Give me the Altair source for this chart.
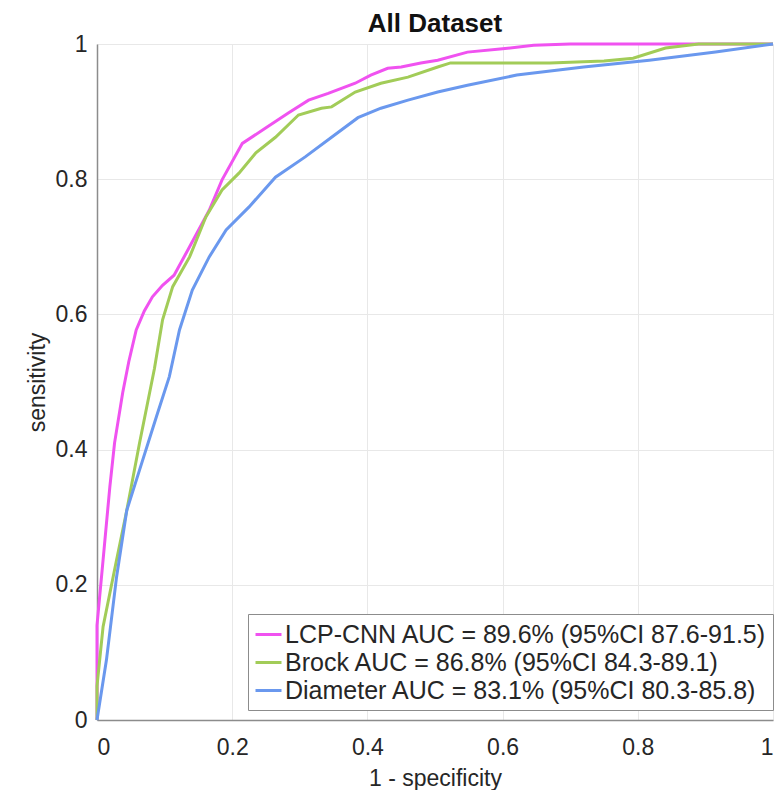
import altair as alt
import pandas as pd

title_text = ["All Dataset"]
labels = [
    "LCP-CNN AUC = 89.6% (95%CI 87.6-91.5)",
    "Brock AUC = 86.8% (95%CI 84.3-89.1)",
    "Diameter AUC = 83.1% (95%CI 80.3-85.8)",
]
colors = ["#f052f0", "#a2cc58", "#6a98ee"]

lcp_x = [0, 0, 0.009, 0.019, 0.026, 0.038, 0.047, 0.058, 0.07, 0.082, 0.097, 0.114, 0.137, 0.166, 0.185,
         0.215, 0.25, 0.283, 0.313, 0.342, 0.382, 0.405, 0.43, 0.45, 0.479, 0.504, 0.548, 0.6, 0.646,
         0.7, 0.743, 0.8, 0.9, 1.0]
lcp_y = [0, 0.14, 0.237, 0.345, 0.41, 0.484, 0.53, 0.577, 0.605, 0.626, 0.643, 0.658, 0.70, 0.754, 0.799,
         0.853, 0.876, 0.898, 0.917, 0.927, 0.942, 0.954, 0.964, 0.966, 0.972, 0.976, 0.988, 0.993, 0.998,
         1.0, 1.0, 1.0, 1.0, 1.0]

brock_x = [0, 0, 0.009, 0.029, 0.044, 0.063, 0.085, 0.097, 0.112, 0.137, 0.161, 0.185, 0.21, 0.235,
           0.264, 0.298, 0.332, 0.347, 0.382, 0.42, 0.46, 0.504, 0.523, 0.55, 0.6, 0.67, 0.75, 0.793,
           0.841, 0.89, 1.0]
brock_y = [0, 0.05, 0.138, 0.237, 0.31, 0.41, 0.52, 0.592, 0.641, 0.685, 0.744, 0.784, 0.809, 0.839,
           0.862, 0.895, 0.905, 0.907, 0.929, 0.942, 0.951, 0.966, 0.972, 0.972, 0.972, 0.972, 0.975, 0.979,
           0.994, 1.0, 1.0]

diam_x = [0, 0.014, 0.029, 0.044, 0.063, 0.088, 0.107, 0.122, 0.141, 0.166, 0.191, 0.225, 0.264,
          0.308, 0.347, 0.386, 0.42, 0.46, 0.504, 0.548, 0.621, 0.72, 0.817, 0.915, 1.0]
diam_y = [0, 0.089, 0.212, 0.31, 0.37, 0.449, 0.508, 0.577, 0.636, 0.685, 0.725, 0.759, 0.803,
          0.833, 0.862, 0.891, 0.905, 0.917, 0.929, 0.939, 0.954, 0.966, 0.976, 0.988, 1.0]

rows = []
for name, xs, ys in zip(labels, [lcp_x, brock_x, diam_x], [lcp_y, brock_y, diam_y]):
    for i, (xv, yv) in enumerate(zip(xs, ys)):
        rows.append({"model": name, "fpr": xv, "tpr": yv, "i": i})
df = pd.DataFrame(rows)

FONT = "Liberation Sans"
TXT = "#262626"
W, H = 676, 676

lines = (
    alt.Chart(df)
    .mark_line(strokeWidth=3)
    .encode(
        x=alt.X("fpr:Q", title="1 - specificity",
                scale=alt.Scale(domain=[0, 1], nice=False),
                axis=alt.Axis(values=[0, 0.2, 0.4, 0.6, 0.8, 1], format="~g",
                              labelPadding=16, titlePadding=8)),
        y=alt.Y("tpr:Q", title="sensitivity",
                scale=alt.Scale(domain=[0, 1], nice=False),
                axis=alt.Axis(values=[0, 0.2, 0.4, 0.6, 0.8, 1], format="~g",
                              labelPadding=10, titlePadding=6)),
        color=alt.Color("model:N",
                        scale=alt.Scale(domain=labels, range=colors),
                        sort=labels,
                        legend=alt.Legend(title=None, orient="none", legendX=151, legendY=570,
                                          fillColor="white", strokeColor="#8c8c8c",
                                          padding=6, rowPadding=0, labelOffset=2,
                                          labelFontSize=25, labelFont=FONT, labelColor=TXT,
                                          labelLimit=0, symbolType="stroke",
                                          symbolStrokeWidth=3, symbolSize=676)),
        order=alt.Order("i:Q"),
    )
)

title = (
    alt.Chart(pd.DataFrame({"t": title_text}))
    .mark_text(font=FONT, fontSize=26, fontWeight="bold", color="#111111",
               align="center", baseline="alphabetic")
    .encode(text="t:N", x=alt.value(W / 2), y=alt.value(-12))
)

chart = (
    alt.layer(lines, title)
    .properties(
        width=W,
        height=H,
        autosize=alt.AutoSizeParams(type="none"),
        padding={"left": 89, "top": 36, "right": 2, "bottom": 70},
    )
    .configure_axis(
        labelFont=FONT, labelFontSize=23, labelColor=TXT,
        titleFont=FONT, titleFontSize=23, titleColor=TXT, titleFontWeight="normal",
        domainColor="#8c8c8c", domainWidth=1.5,
        gridColor="#e8e8e8", gridWidth=1, ticks=False,
    )
    .configure_view(strokeWidth=0)
)

chart.save("out.html", embed_options={"renderer": "svg", "actions": False})
